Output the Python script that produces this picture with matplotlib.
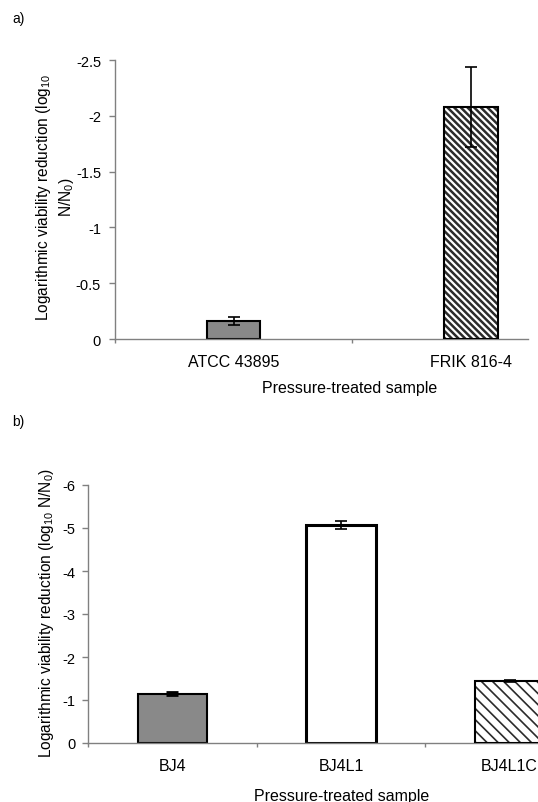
import matplotlib
matplotlib.use("Agg")
import matplotlib.pyplot as plt
from matplotlib.ticker import FixedLocator, FuncFormatter

plt.rcParams['font.family'] = ['Liberation Sans', 'DejaVu Sans']
plt.rcParams['axes.unicode_minus'] = False
plt.rcParams['mathtext.fontset'] = 'custom'
plt.rcParams['mathtext.rm'] = 'Liberation Sans'
plt.rcParams['mathtext.it'] = 'Liberation Sans'

# ---- data: panel a ----
a_categories = ["ATCC 43895", "FRIK 816-4"]
a_values = [-0.164, -2.08]
a_errors = [0.037, 0.36]
a_yticks = [0, -0.5, -1, -1.5, -2, -2.5]

# ---- data: panel b ----
b_categories = ["BJ4", "BJ4L1", "BJ4L1C"]
b_values = [-1.15, -5.065, -1.45]
b_errors = [0.03, 0.09, 0.02]
b_yticks = [0, -1, -2, -3, -4, -5, -6]

W, H = 538, 803
fig = plt.figure(figsize=(W / 100, H / 100), dpi=100)
fig.patch.set_facecolor('white')

spine_col = '#808080'
gray_fill = '#898989'


def px_axes(left, right, top, bottom):
    return fig.add_axes([left / W, 1 - bottom / H, (right - left) / W, (bottom - top) / H])


def style_axes(ax, ncat, yticks, ylim, ylab_pad):
    for s in ['top', 'right']:
        ax.spines[s].set_visible(False)
    for s in ['left', 'bottom']:
        ax.spines[s].set_color(spine_col)
        ax.spines[s].set_linewidth(1.0)
    ax.set_ylim(ylim)
    ax.yaxis.set_major_locator(FixedLocator(yticks))
    ax.yaxis.set_major_formatter(FuncFormatter(lambda v, p: '%g' % v))
    ax.tick_params(axis='y', direction='out', length=4, width=1, color=spine_col,
                   labelsize=10.5, pad=ylab_pad)
    ax.set_xticks(range(ncat))
    ax.set_xticks([i - 0.5 for i in range(ncat + 1)], minor=True)
    ax.tick_params(axis='x', which='major', length=0, labelsize=11.5, pad=11)
    ax.tick_params(axis='x', which='minor', direction='out', length=3, width=1,
                   color=spine_col)


def hatched_bar(ax, x, val, err, width, hatch, hlw):
    plt.rcParams['hatch.linewidth'] = hlw
    bars = ax.bar([x], [val], width=width, color='white', edgecolor='#2b2b2b',
                  hatch=hatch, linewidth=0, zorder=2)
    for b in bars:
        if hasattr(b, 'set_hatch_linewidth'):
            b.set_hatch_linewidth(hlw)
    ax.bar([x], [val], width=width, fill=False, edgecolor='black', linewidth=1.5, zorder=3)
    ax.errorbar([x], [val], yerr=[err], fmt='none', ecolor='black', elinewidth=1.2,
                capsize=4, capthick=1.2, zorder=4)


# ---------------- panel a ----------------
axa = px_axes(115, 528, 61, 340)
style_axes(axa, len(a_categories), a_yticks, (0, -2.5), 6)
axa.set_xlim(-0.5, 1.24)
wa = 0.225
axa.bar([0], [a_values[0]], width=wa, color=gray_fill, edgecolor='black',
        linewidth=1.5, zorder=2)
axa.errorbar([0], [a_values[0]], yerr=[a_errors[0]], fmt='none', ecolor='black',
             elinewidth=1.2, capsize=4, capthick=1.2, zorder=4)
hatched_bar(axa, 1, a_values[1], a_errors[1], wa, '\\' * 5, 1.8)
axa.set_xticklabels(a_categories)
axa.set_ylabel("Logarithmic viability reduction (log$_{10}$\nN/N$_0$)", fontsize=11.2,
               va='center', ha='center', linespacing=1.3)
axa.yaxis.set_label_coords(55 / W, 1 - 197 / H, transform=fig.transFigure)
axa.set_xlabel("Pressure-treated sample", fontsize=11.5, va='center')
axa.xaxis.set_label_coords(350 / W, 1 - 389 / H, transform=fig.transFigure)

# ---------------- panel b ----------------
axb = px_axes(88, 594, 486, 744)
style_axes(axb, len(b_categories), b_yticks, (0, -6), 5)
axb.set_xlim(-0.5, 2.5)
wb = 0.41
axb.bar([0], [b_values[0]], width=wb, color=gray_fill, edgecolor='black',
        linewidth=1.5, zorder=2)
axb.errorbar([0], [b_values[0]], yerr=[b_errors[0]], fmt='none', ecolor='black',
             elinewidth=1.2, capsize=4, capthick=2, zorder=4)
axb.bar([1], [b_values[1]], width=wb, color='white', edgecolor='black',
        linewidth=2.2, zorder=2)
axb.errorbar([1], [b_values[1]], yerr=[b_errors[1]], fmt='none', ecolor='black',
             elinewidth=1.2, capsize=4, capthick=1.2, zorder=4)
hatched_bar(axb, 2, b_values[2], b_errors[2], wb, '\\' * 3, 1.2)
axb.set_xticklabels(b_categories)
axb.set_ylabel("Logarithmic viability reduction (log$_{10}$ N/N$_0$)", fontsize=11.2,
               va='center', ha='center')
axb.yaxis.set_label_coords(47 / W, 1 - 613 / H, transform=fig.transFigure)
axb.set_xlabel("Pressure-treated sample", fontsize=11.5, va='center')
axb.xaxis.set_label_coords(342 / W, 1 - 797 / H, transform=fig.transFigure)

fig.text(12 / W, 1 - 19 / H, "a)", fontsize=10, va='center', ha='left')
fig.text(12 / W, 1 - 422 / H, "b)", fontsize=10, va='center', ha='left')

fig.savefig("out.png", dpi=100, facecolor='white')
